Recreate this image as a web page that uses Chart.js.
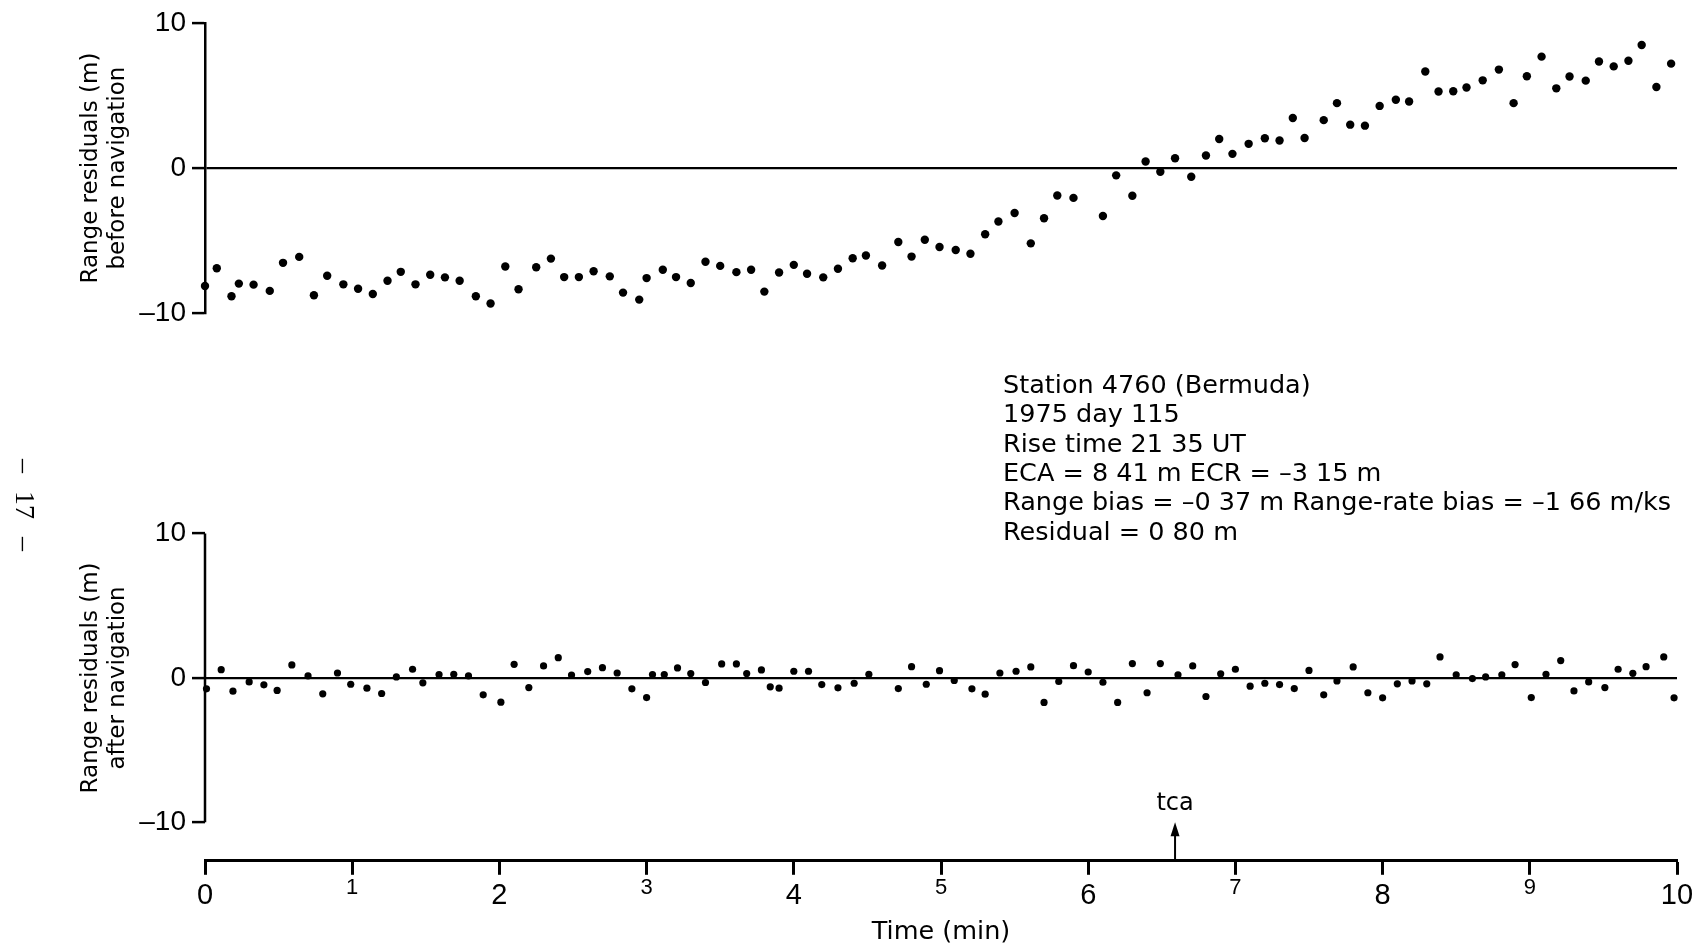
<!DOCTYPE html>
<html>
<head>
<meta charset="utf-8">
<title>Range residuals - station 4760</title>
<script src="https://cdn.jsdelivr.net/npm/chart.js@4.4.1/dist/chart.umd.min.js"></script>
<style>
  html, body { margin: 0; padding: 0; background: #fff; }
  #page { position: relative; width: 1706px; height: 952px; overflow: hidden; background: #fff; }
  #page canvas { position: absolute; left: 0; }
  #topChart { top: 0; width: 1706px; height: 340px; }
  #bottomChart { top: 340px; width: 1706px; height: 612px; }
</style>
</head>
<body>
<div id="page">
  <canvas id="topChart" width="1706" height="340"></canvas>
  <canvas id="bottomChart" width="1706" height="612"></canvas>
</div>
<script>
// residuals before navigation (time in min, residual in m)
const timeBefore = [0.00, 0.08, 0.18, 0.23, 0.33, 0.44, 0.53, 0.64, 0.74, 0.83,
  0.94, 1.04, 1.14, 1.24, 1.33, 1.43, 1.53, 1.63, 1.73, 1.84,
  1.94, 2.04, 2.13, 2.25, 2.35, 2.44, 2.54, 2.64, 2.75, 2.84,
  2.95, 3.00, 3.11, 3.20, 3.30, 3.40, 3.50, 3.61, 3.71, 3.80,
  3.90, 4.00, 4.09, 4.20, 4.30, 4.40, 4.49, 4.60, 4.71, 4.80,
  4.89, 4.99, 5.10, 5.20, 5.30, 5.39, 5.50, 5.61, 5.70, 5.79,
  5.90, 6.10, 6.19, 6.30, 6.39, 6.49, 6.59, 6.70, 6.80, 6.89,
  6.98, 7.09, 7.20, 7.30, 7.39, 7.47, 7.60, 7.69, 7.78, 7.88,
  7.98, 8.09, 8.18, 8.29, 8.38, 8.48, 8.57, 8.68, 8.79, 8.89,
  8.98, 9.08, 9.18, 9.27, 9.38, 9.47, 9.57, 9.67, 9.76, 9.86, 9.96];
const residBefore = [-8.11, -6.89, -8.82, -7.95, -8.02, -8.45, -6.52, -6.11, -8.75, -7.41,
  -8.00, -8.30, -8.66, -7.75, -7.14, -8.00, -7.34, -7.52, -7.75, -8.82,
  -9.32, -6.77, -8.34, -6.82, -6.23, -7.50, -7.50, -7.10, -7.45, -8.57,
  -9.05, -7.57, -7.00, -7.50, -7.91, -6.45, -6.73, -7.16, -7.00, -8.50,
  -7.18, -6.66, -7.27, -7.52, -6.93, -6.20, -6.02, -6.70, -5.09, -6.09,
  -4.93, -5.43, -5.64, -5.89, -4.55, -3.68, -3.09, -5.18, -3.45, -1.89,
  -2.05, -3.30, -0.50, -1.90, 0.45, -0.25, 0.68, -0.60, 0.87, 2.00,
  0.98, 1.67, 2.05, 1.90, 3.45, 2.07, 3.30, 4.47, 2.99, 2.92,
  4.28, 4.70, 4.58, 6.65, 5.27, 5.29, 5.55, 6.04, 6.78, 4.47,
  6.32, 7.67, 5.49, 6.30, 6.02, 7.34, 7.00, 7.39, 8.47, 5.58, 7.19];

// residuals after navigation
const timeAfter = [0.01, 0.11, 0.19, 0.30, 0.40, 0.49, 0.59, 0.70, 0.80, 0.90,
  0.99, 1.10, 1.20, 1.30, 1.41, 1.48, 1.59, 1.69, 1.79, 1.89,
  2.01, 2.10, 2.20, 2.30, 2.40, 2.49, 2.60, 2.70, 2.80, 2.90,
  3.00, 3.04, 3.12, 3.21, 3.30, 3.40, 3.51, 3.61, 3.68, 3.78,
  3.84, 3.90, 4.00, 4.10, 4.19, 4.30, 4.41, 4.51, 4.71, 4.80,
  4.90, 4.99, 5.09, 5.21, 5.30, 5.40, 5.51, 5.61, 5.70, 5.80,
  5.90, 6.00, 6.10, 6.20, 6.30, 6.40, 6.49, 6.61, 6.71, 6.80,
  6.90, 7.00, 7.10, 7.20, 7.30, 7.40, 7.50, 7.60, 7.69, 7.80,
  7.90, 8.00, 8.10, 8.20, 8.30, 8.39, 8.50, 8.61, 8.70, 8.81,
  8.90, 9.01, 9.11, 9.21, 9.30, 9.40, 9.51, 9.60, 9.70, 9.79,
  9.91, 9.98];
const residAfter = [-0.76, 0.57, -0.92, -0.28, -0.48, -0.87, 0.90, 0.14, -1.10, 0.34,
  -0.44, -0.71, -1.08, 0.07, 0.60, -0.34, 0.23, 0.25, 0.14, -1.17,
  -1.68, 0.94, -0.67, 0.83, 1.40, 0.20, 0.44, 0.71, 0.34, -0.76,
  -1.36, 0.23, 0.23, 0.69, 0.30, -0.32, 0.97, 0.97, 0.30, 0.55,
  -0.62, -0.71, 0.46, 0.46, -0.46, -0.69, -0.37, 0.25, -0.74, 0.78,
  -0.44, 0.50, -0.18, -0.76, -1.13, 0.34, 0.46, 0.76, -1.70, -0.25,
  0.85, 0.41, -0.30, -1.70, 0.99, -1.03, 0.99, 0.21, 0.83, -1.29,
  0.28, 0.60, -0.57, -0.37, -0.46, -0.74, 0.52, -1.17, -0.21, 0.76,
  -1.03, -1.38, -0.41, -0.21, -0.41, 1.45, 0.21, -0.05, 0.07, 0.21,
  0.92, -1.36, 0.25, 1.20, -0.90, -0.28, -0.67, 0.60, 0.32, 0.78,
  1.45, -1.38];

const residTicks = [-10, 0, 10];
const timeRange = [0, 10];
const tcaTime = 6.59;

const stationNotes = [
  'Station 4760 (Bermuda)',
  '1975 day 115',
  'Rise time 21 35 UT',
  'ECA = 8 41 m ECR = \u20133 15 m',
  'Range bias = \u20130 37 m Range-rate bias = \u20131 66 m/ks',
  'Residual = 0 80 m'
];

Chart.defaults.font.family = '"DejaVu Sans", sans-serif';
Chart.defaults.color = '#000';

const AXIS_W = 205;      // width kept for the y axis (ticks + title)
const RIGHT_PAD = 29;
const LOWER_SPAN = 12.67; // lower panel y range goes past +-10 so the time axis sits below
const TICK_FONT = '"Liberation Sans", Arial, sans-serif';

function points(xs, ys) {
  return xs.map((t, i) => ({ x: t, y: ys[i] }));
}

function tickLabel(v) {
  return v < 0 ? '\u2013' + Math.abs(v) : String(v);
}

function yAxis(titleLines, opts) {
  return Object.assign({
    type: 'linear',
    afterFit: s => { s.width = AXIS_W; },
    ticks: {
      stepSize: 10,
      padding: 6,
      font: { family: TICK_FONT, size: 28 },
      callback: tickLabel
    },
    grid: {
      drawOnChartArea: true,
      drawTicks: true,
      tickLength: 13,
      tickWidth: 2.5,
      tickColor: '#000',
      lineWidth: 2.2,
      color: c => (c.tick && c.tick.value === 0) ? '#000' : 'rgba(0,0,0,0)'
    },
    title: {
      display: true,
      text: titleLines,
      font: { size: 23, lineHeight: 1.15 },
      padding: { top: 78, bottom: 0 }
    }
  }, opts);
}

// top panel: before navigation
new Chart(document.getElementById('topChart'), {
  type: 'scatter',
  data: {
    datasets: [{
      data: points(timeBefore, residBefore),
      backgroundColor: '#000',
      borderWidth: 0,
      pointRadius: 4.2,
      clip: false
    }]
  },
  options: {
    responsive: false,
    animation: false,
    devicePixelRatio: 1,
    layout: { padding: { top: 22, bottom: 26.6, left: 0, right: RIGHT_PAD } },
    plugins: { legend: { display: false }, tooltip: { enabled: false } },
    scales: {
      x: { type: 'linear', min: timeRange[0], max: timeRange[1], display: false },
      y: yAxis(['Range residuals (m)', 'before navigation'], {
        min: -10, max: 10,
        border: { display: true, color: '#000', width: 2.5 }
      })
    }
  }
});

// extra marks on the lower panel: clipped y axis line, tca arrow, notes
const lowerMarks = {
  id: 'lowerMarks',
  afterDraw(chart) {
    const { ctx, chartArea, scales } = chart;
    const x = scales.x, y = scales.y;
    const top = chart.canvas.offsetTop;
    ctx.save();
    ctx.strokeStyle = '#000';
    ctx.fillStyle = '#000';

    ctx.lineWidth = 2.5;
    ctx.beginPath();
    ctx.moveTo(chartArea.left, y.getPixelForValue(10));
    ctx.lineTo(chartArea.left, y.getPixelForValue(-10));
    ctx.stroke();

    // time of closest approach
    const ax = x.getPixelForValue(tcaTime);
    const tip = y.getPixelForValue(-10);
    ctx.lineWidth = 2;
    ctx.beginPath();
    ctx.moveTo(ax, chartArea.bottom);
    ctx.lineTo(ax, tip + 10);
    ctx.stroke();
    ctx.beginPath();
    ctx.moveTo(ax, tip);
    ctx.lineTo(ax - 4.5, tip + 14);
    ctx.lineTo(ax + 4.5, tip + 14);
    ctx.closePath();
    ctx.fill();
    ctx.font = '24px "DejaVu Sans"';
    ctx.textAlign = 'center';
    ctx.textBaseline = 'alphabetic';
    ctx.fillText('tca', ax, tip - 12);

    // pass summary
    ctx.font = '25.5px "DejaVu Sans"';
    ctx.textAlign = 'left';
    stationNotes.forEach((line, i) => {
      ctx.fillText(line, 1003, 393 - top + i * 29.3);
    });

    // page number in the margin
    ctx.translate(23, 505 - top);
    ctx.rotate(Math.PI / 2);
    ctx.font = '28px "Liberation Serif", serif';
    ctx.textAlign = 'center';
    ctx.textBaseline = 'middle';
    ctx.fillText('\u2013', -39, 0);
    ctx.fillText('17', 0, 0);
    ctx.fillText('\u2013', 39, 0);
    ctx.restore();
  }
};

// bottom panel: after navigation, carries the time axis
new Chart(document.getElementById('bottomChart'), {
  type: 'scatter',
  data: {
    datasets: [{
      data: points(timeAfter, residAfter),
      backgroundColor: '#000',
      borderWidth: 0,
      pointRadius: 3.6,
      clip: false
    }]
  },
  options: {
    responsive: false,
    animation: false,
    devicePixelRatio: 1,
    layout: { padding: { top: 155, bottom: 0, left: 0, right: RIGHT_PAD } },
    plugins: { legend: { display: false }, tooltip: { enabled: false } },
    scales: {
      x: {
        type: 'linear',
        min: timeRange[0],
        max: timeRange[1],
        afterFit: s => { s.height = 91.2; },
        border: { display: true, color: '#000', width: 3 },
        grid: {
          drawOnChartArea: false,
          drawTicks: true,
          tickLength: 14,
          tickWidth: 3,
          tickColor: '#000'
        },
        ticks: {
          stepSize: 1,
          padding: 3.5,
          maxRotation: 0,
          // odd minutes are printed smaller and sit higher
          font: c => (c.tick && c.tick.value % 2 === 1)
            ? { family: TICK_FONT, size: 22, lineHeight: 0.84 }
            : { family: TICK_FONT, size: 29, lineHeight: 1.2 }
        },
        title: {
          display: true,
          text: 'Time (min)',
          font: { size: 25.5, lineHeight: 1.2 },
          padding: { top: 0, bottom: 4.7 }
        }
      },
      y: yAxis(['Range residuals (m)', 'after navigation'], {
        min: -LOWER_SPAN, max: LOWER_SPAN,
        afterBuildTicks: s => { s.ticks = residTicks.map(v => ({ value: v })); },
        border: { display: false }
      })
    }
  },
  plugins: [lowerMarks]
});
</script>
</body>
</html>
